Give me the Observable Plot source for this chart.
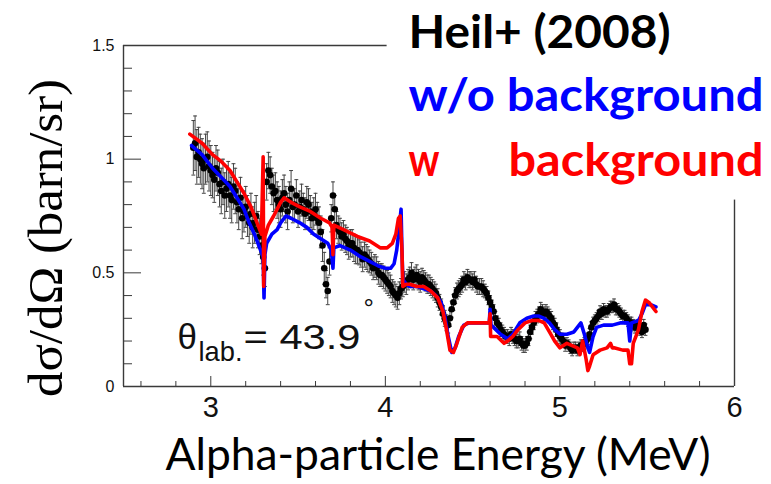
<!DOCTYPE html>
<html><head><meta charset="utf-8">
<script src="https://cdn.jsdelivr.net/npm/d3@7"></script>
<script src="https://cdn.jsdelivr.net/npm/@observablehq/plot@0.6"></script>
<style>html,body{margin:0;padding:0;background:#fff;overflow:hidden}svg{display:block}</style>
</head><body><div id="chart"></div>
<script>
// ---- Heil+ (2008) measured points ----
const energy = [
 2.90,2.92,2.94,2.96,2.98,3.00,3.02,3.04,3.06,3.08,
 3.10,3.12,3.14,3.16,3.18,3.20,3.22,3.24,3.26,3.28,
 3.30,3.31,3.32,3.34,3.36,3.38,3.40,3.42,3.44,3.46,
 3.48,3.50,3.52,3.54,3.56,3.58,3.60,3.62,3.64,3.65,
 3.66,3.67,3.68,3.69,3.70,3.72,3.74,3.76,3.78,3.80,
 3.82,3.84,3.86,3.88,3.90,3.92,3.94,3.96,3.98,4.00,
 4.02,4.04,4.06,4.08,4.10,4.12,4.14,4.16,4.18,4.20,
 4.22,4.24,4.26,4.28,4.30,4.32,4.34,4.36,4.38,4.40,
 4.42,4.44,4.46,4.48,4.50,4.52,4.54,4.56,4.58,4.60,
 4.62,4.64,4.66,4.68,4.70,4.72,4.74,4.76,4.78,4.80,
 4.82,4.84,4.86,4.88,4.90,4.92,4.94,4.96,4.98,5.00,
 5.02,5.04,5.06,5.08,5.10,5.12,5.14,5.16,5.18,5.20,
 5.22,5.24,5.26,5.28,5.30,5.32,5.34,5.36,5.38,5.40,
 5.42,5.44,5.46,5.48,
 2.91,2.93,2.95,2.97,2.99,3.01,3.03,3.05,3.07,3.09,
 3.11,3.13,3.15,3.17,3.19,3.21,3.23,3.25,3.27,3.29,
 3.33,3.35,3.37,3.39,3.41,3.43,3.45,3.47,3.49,3.51,
 3.53,3.55,3.57,3.59,3.61,3.63,3.71,3.73,3.75,3.77,
 3.79,3.81,3.83,3.85,3.87,3.89,3.91,3.93,3.95,3.97,
 3.99,4.01,4.03,4.05,4.07,4.09,4.11,4.13,4.15,4.17,
 4.19,4.21,4.23,4.25,4.27,4.29,4.31,4.33,4.35,4.37,
 4.39,4.41,4.43,4.45,4.47,4.49,4.51,4.53,4.55,4.57,
 4.59,4.61,4.63,4.65,4.67,4.69,4.71,4.73,4.75,4.77,
 4.79,4.81,4.83,4.85,4.87,4.89,4.91,4.93,4.95,4.97,
 4.99,5.01,5.03,5.05,5.07,5.09,5.11,5.13,5.15,5.17,
 5.19,5.21,5.23,5.25,5.27,5.29,5.31,5.33,5.35,5.37,
 5.39,5.41,5.43,5.45,5.47,5.49];
const crossSection = [
 1.05,1.01,1.00,0.96,1.01,0.95,0.91,0.94,0.86,0.84,
 0.89,0.82,0.86,0.78,0.74,0.79,0.72,0.70,0.75,0.66,
 0.57,0.52,0.90,0.93,0.85,0.82,0.78,0.85,0.77,0.87,
 0.80,0.77,0.82,0.76,0.80,0.74,0.78,0.72,0.62,0.52,
 0.45,0.42,0.55,0.74,0.84,0.71,0.68,0.67,0.64,0.63,
 0.61,0.60,0.58,0.58,0.56,0.54,0.53,0.50,0.49,0.47,
 0.45,0.42,0.40,0.41,0.44,0.45,0.48,0.47,0.49,0.46,
 0.47,0.45,0.44,0.42,0.39,0.35,0.30,0.27,0.34,0.40,
 0.43,0.45,0.46,0.47,0.46,0.45,0.44,0.43,0.41,0.37,
 0.33,0.28,0.25,0.23,0.22,0.23,0.21,0.20,0.19,0.18,
 0.21,0.26,0.30,0.32,0.33,0.33,0.31,0.28,0.25,0.22,
 0.20,0.19,0.17,0.17,0.16,0.18,0.19,0.21,0.26,0.29,
 0.31,0.32,0.33,0.34,0.35,0.34,0.33,0.31,0.30,0.28,
 0.27,0.26,0.25,0.27,
 1.07,1.03,0.98,1.00,0.97,0.93,0.96,0.89,0.90,0.87,
 0.84,0.88,0.81,0.83,0.77,0.75,0.76,0.72,0.69,0.62,
 0.95,0.88,0.86,0.80,0.83,0.80,0.82,0.79,0.84,0.79,
 0.78,0.81,0.77,0.76,0.74,0.68,0.78,0.69,0.66,0.65,
 0.62,0.63,0.60,0.59,0.56,0.57,0.55,0.52,0.52,0.49,
 0.48,0.46,0.44,0.41,0.39,0.43,0.46,0.47,0.50,0.48,
 0.47,0.48,0.46,0.45,0.43,0.41,0.37,0.32,0.28,0.30,
 0.37,0.42,0.44,0.47,0.48,0.47,0.47,0.44,0.44,0.42,
 0.39,0.35,0.30,0.27,0.24,0.22,0.21,0.22,0.20,0.21,
 0.18,0.19,0.24,0.28,0.31,0.34,0.32,0.32,0.30,0.27,
 0.23,0.21,0.18,0.18,0.16,0.17,0.17,0.18,0.20,0.23,
 0.28,0.30,0.33,0.34,0.33,0.35,0.36,0.34,0.32,0.31,
 0.29,0.28,0.26,0.27,0.24,0.25];
const crossSectionErr = [
 0.12,0.12,0.11,0.11,0.11,0.11,0.10,0.10,0.10,0.10,
 0.10,0.10,0.10,0.09,0.09,0.09,0.09,0.09,0.09,0.08,
 0.08,0.08,0.08,0.08,0.08,0.08,0.08,0.08,0.08,0.08,
 0.07,0.07,0.07,0.07,0.07,0.07,0.07,0.07,0.07,0.07,
 0.06,0.06,0.06,0.06,0.06,0.06,0.06,0.06,0.06,0.06,
 0.06,0.06,0.055,0.055,0.055,0.05,0.05,0.05,0.05,0.05,
 0.05,0.05,0.05,0.05,0.045,0.045,0.045,0.045,0.045,0.045,
 0.04,0.04,0.04,0.04,0.04,0.035,0.035,0.035,0.035,0.035,
 0.035,0.035,0.035,0.035,0.035,0.035,0.035,0.035,0.03,0.03,
 0.03,0.03,0.03,0.03,0.03,0.03,0.03,0.03,0.03,0.03,
 0.03,0.03,0.03,0.03,0.03,0.03,0.03,0.03,0.03,0.03,
 0.025,0.025,0.025,0.025,0.025,0.025,0.025,0.025,0.025,0.025,
 0.025,0.025,0.025,0.025,0.025,0.025,0.025,0.025,0.025,0.025,
 0.025,0.025,0.025,0.025,
 0.12,0.11,0.11,0.11,0.11,0.10,0.10,0.10,0.10,0.10,
 0.10,0.10,0.09,0.09,0.09,0.09,0.09,0.09,0.08,0.08,
 0.08,0.08,0.08,0.08,0.08,0.08,0.08,0.07,0.07,0.07,
 0.07,0.07,0.07,0.07,0.07,0.07,0.06,0.06,0.06,0.06,
 0.06,0.06,0.06,0.055,0.055,0.055,0.05,0.05,0.05,0.05,
 0.05,0.05,0.05,0.05,0.05,0.045,0.045,0.045,0.045,0.045,
 0.045,0.04,0.04,0.04,0.04,0.04,0.035,0.035,0.035,0.035,
 0.035,0.035,0.035,0.035,0.035,0.035,0.035,0.035,0.035,0.03,
 0.03,0.03,0.03,0.03,0.03,0.03,0.03,0.03,0.03,0.03,
 0.03,0.03,0.03,0.03,0.03,0.03,0.03,0.03,0.03,0.03,
 0.03,0.025,0.025,0.025,0.025,0.025,0.025,0.025,0.025,0.025,
 0.025,0.025,0.025,0.025,0.025,0.025,0.025,0.025,0.025,0.025,
 0.025,0.025,0.025,0.025,0.025,0.025];

// ---- R-matrix fit without background (blue) ----
const blueE = [2.89,2.95,3.01,3.06,3.11,3.15,3.19,3.22,3.25,3.28,3.30,3.305,3.31,3.32,3.35,3.38,3.40,3.43,3.46,3.51,
 3.55,3.59,3.63,3.67,3.69,3.70,3.705,3.74,3.80,3.86,3.91,3.96,4.00,4.03,4.05,4.065,4.08,4.09,4.095,4.10,
 4.12,4.14,4.18,4.22,4.26,4.29,4.32,4.34,4.36,4.38,4.40,4.42,4.45,4.48,4.52,4.56,4.595,4.60,4.605,4.62,
 4.66,4.70,4.73,4.77,4.81,4.85,4.88,4.91,4.94,4.97,5.00,5.04,5.08,5.11,5.12,5.14,5.16,5.17,5.19,5.21,
 5.25,5.30,5.35,5.39,5.40,5.41,5.45,5.47,5.49,5.52,5.55];
const blueY = [1.06,1.02,0.96,0.92,0.88,0.83,0.78,0.72,0.67,0.61,0.57,0.39,0.58,0.63,0.67,0.69,0.72,0.75,0.74,0.72,
 0.70,0.67,0.65,0.63,0.60,0.52,0.61,0.62,0.60,0.57,0.55,0.53,0.52,0.52,0.54,0.60,0.70,0.78,0.60,0.47,
 0.45,0.44,0.44,0.43,0.42,0.40,0.37,0.31,0.22,0.15,0.17,0.22,0.27,0.28,0.28,0.28,0.28,0.34,0.27,0.26,
 0.23,0.21,0.23,0.28,0.30,0.31,0.31,0.30,0.28,0.25,0.23,0.23,0.24,0.27,0.28,0.23,0.17,0.15,0.22,0.26,
 0.27,0.27,0.28,0.28,0.20,0.28,0.29,0.32,0.36,0.36,0.35];

// ---- R-matrix fit with background (red) ----
const redE = [2.88,2.95,3.01,3.06,3.11,3.15,3.19,3.23,3.26,3.29,3.30,3.303,3.31,3.33,3.36,3.40,3.42,3.46,3.51,3.57,
 3.63,3.68,3.695,3.70,3.705,3.76,3.84,3.91,3.97,4.01,4.04,4.06,4.075,4.085,4.095,4.10,4.12,4.14,4.18,4.22,
 4.26,4.30,4.33,4.35,4.37,4.39,4.41,4.44,4.47,4.52,4.56,4.595,4.60,4.603,4.64,4.68,4.70,4.73,4.76,4.80,
 4.84,4.88,4.91,4.94,4.97,5.00,5.04,5.07,5.10,5.115,5.13,5.15,5.16,5.17,5.19,5.23,5.27,5.29,5.30,5.31,
 5.36,5.39,5.40,5.41,5.42,5.45,5.47,5.49,5.51,5.53,5.55];
const redY = [1.11,1.07,1.02,0.99,0.95,0.90,0.85,0.79,0.73,0.67,1.01,0.44,0.66,0.71,0.75,0.81,0.83,0.81,0.79,0.77,
 0.74,0.72,0.70,0.58,0.71,0.69,0.66,0.64,0.61,0.61,0.63,0.67,0.74,0.75,0.60,0.44,0.45,0.45,0.44,0.44,
 0.42,0.39,0.33,0.25,0.16,0.15,0.19,0.26,0.28,0.28,0.28,0.28,0.32,0.22,0.22,0.19,0.20,0.22,0.25,0.28,
 0.29,0.29,0.28,0.24,0.20,0.17,0.19,0.18,0.17,0.14,0.20,0.12,0.07,0.09,0.14,0.16,0.17,0.19,0.17,0.17,
 0.16,0.16,0.10,0.10,0.19,0.25,0.33,0.38,0.37,0.35,0.33];

// ---- axes ----
const xMajor = [3, 4, 5, 6];
const xMinor = [2.6, 2.8, 3.2, 3.4, 3.6, 3.8, 4.2, 4.4, 4.6, 4.8, 5.2, 5.4, 5.6, 5.8];
const yMajor = [0, 0.5, 1, 1.5];
const yMinor = [0.1, 0.2, 0.3, 0.4, 0.6, 0.7, 0.8, 0.9, 1.1, 1.2, 1.3, 1.4];

const points = energy.map((e, i) => ({E: e, y: crossSection[i], lo: crossSection[i] - crossSectionErr[i], hi: crossSection[i] + crossSectionErr[i]}));
const blue = blueE.map((e, i) => ({E: e, y: blueY[i]}));
const red = redE.map((e, i) => ({E: e, y: redY[i]}));

const W = 771, H = 484, mL = 123, mR = 37, mT = 45, mB = 98;
const fw = W - mL - mR, fh = H - mT - mB;
const capSymbol = {draw(ctx, size) { const w = Math.sqrt(size); ctx.moveTo(-w / 2, 0); ctx.lineTo(w / 2, 0); }};
const axisCol = "#3a3a3a";
const sans = "Liberation Sans, Arial, Helvetica, sans-serif";
const calib = "Lato, 'Open Sans', sans-serif";
const t = d => d;

const chart = Plot.plot({
  width: W, height: H,
  marginLeft: mL, marginRight: mR, marginTop: mT, marginBottom: mB,
  style: {fontFamily: sans, background: "#fff", overflow: "visible"},
  x: {domain: [2.5, 6]},
  y: {domain: [0, 1.5]},
  marks: [
    // frame
    Plot.ruleY([0], {stroke: axisCol, strokeWidth: 1.4}),
    Plot.ruleX([2.5], {stroke: axisCol, strokeWidth: 1.4}),
    Plot.ruleY([1.5], {x1: 2.5, x2: 4.01, stroke: axisCol, strokeWidth: 1.4}),
    Plot.ruleX([6], {y1: 0, y2: 0.82, stroke: axisCol, strokeWidth: 1.4}),
    // inward ticks
    Plot.ruleX(xMajor, {x: t, insetTop: fh - 10, stroke: axisCol, strokeWidth: 1}),
    Plot.ruleX(xMinor, {x: t, insetTop: fh - 5, stroke: axisCol, strokeWidth: 1}),
    Plot.ruleY(yMajor, {y: t, insetRight: fw - 18, stroke: axisCol, strokeWidth: 1}),
    Plot.ruleY(yMinor, {y: t, insetRight: fw - 9, stroke: axisCol, strokeWidth: 1}),
    Plot.axisX({ticks: xMajor, tickSize: 0, tickPadding: 10, fontSize: 29, tickFormat: d => String(d), label: null, fill: "#111"}),
    Plot.axisY({ticks: yMajor, tickSize: 0, tickPadding: 9, fontSize: 16, tickFormat: d => String(d), label: null, fill: "#111"}),
    // data with error bars
    Plot.ruleX(points, {x: "E", y1: "lo", y2: "hi", stroke: "#444", strokeWidth: 1}),
    Plot.dot(points, {x: "E", y: "lo", symbol: capSymbol, r: 2.2, fill: "none", stroke: "#444", strokeWidth: 1}),
    Plot.dot(points, {x: "E", y: "hi", symbol: capSymbol, r: 2.2, fill: "none", stroke: "#444", strokeWidth: 1}),
    Plot.dot(points, {x: "E", y: "y", r: 3.3, fill: "#000", stroke: null}),
    // fits
    Plot.line(blue, {x: "E", y: "y", stroke: "#0000ff", strokeWidth: 3.6, strokeLinejoin: "round"}),
    Plot.line(red, {x: "E", y: "y", stroke: "#ff0000", strokeWidth: 3.6, strokeLinejoin: "round"}),
    // annotation
    Plot.text(["θ"], {text: t, frameAnchor: "top-left", dx: 54, dy: 303, lineAnchor: "bottom", textAnchor: "start", fontSize: 35, fill: "#111"}),
    Plot.text(["lab."], {text: t, frameAnchor: "top-left", dx: 75, dy: 315, lineAnchor: "bottom", textAnchor: "start", fontSize: 28, fill: "#111"}),
    Plot.text(["= 43.9"], {text: t, frameAnchor: "top-left", dx: 120, dy: 303, lineAnchor: "bottom", textAnchor: "start", fontSize: 35, fill: "#111"}),
    Plot.text(["°"], {text: t, frameAnchor: "top-left", dx: 240, dy: 271, lineAnchor: "bottom", textAnchor: "start", fontSize: 26, fill: "#111"}),
    // legend
    Plot.text(["Heil+ (2008)"], {text: t, frameAnchor: "top-left", dx: 285, dy: 2, lineAnchor: "bottom", textAnchor: "start", fontSize: 46, fontWeight: "bold", fontFamily: calib, fill: "#000"}),
    Plot.text(["w/o background"], {text: t, frameAnchor: "top-left", dx: 285, dy: 65, lineAnchor: "bottom", textAnchor: "start", fontSize: 46, fontWeight: "bold", fontFamily: calib, fill: "#0000ff"}),
    Plot.text(["w"], {text: t, frameAnchor: "top-left", dx: 285, dy: 130, lineAnchor: "bottom", textAnchor: "start", fontSize: 46, fontWeight: "bold", fontFamily: calib, fill: "#ff0000"}),
    Plot.text(["background"], {text: t, frameAnchor: "top-left", dx: 385, dy: 130, lineAnchor: "bottom", textAnchor: "start", fontSize: 46, fontWeight: "bold", fontFamily: calib, fill: "#ff0000"}),
    // axis titles
    Plot.text(["Alpha-particle Energy (MeV)"], {text: t, frameAnchor: "bottom", dx: 9, dy: 83, lineAnchor: "bottom", textAnchor: "middle", fontSize: 44, fontFamily: calib, fill: "#000"}),
    Plot.text(["dσ/dΩ (barn/sr)"], {text: t, frameAnchor: "left", dx: -77, dy: 22, rotate: -90, lineAnchor: "middle", textAnchor: "middle", fontSize: 48, fontFamily: "Liberation Serif, 'Times New Roman', serif", fill: "#000"})
  ]
});

const fits = new Map([
  ["Alpha-particle Energy (MeV)", 545], ["Heil+ (2008)", 262], ["w/o background", 355],
  ["background", 255], ["w", 31], ["= 43.9", 117], ["dσ/dΩ (barn/sr)", 318], ["lab.", 44]
]);
d3.select(chart).selectAll("text").each(function () {
  const s = this.textContent;
  if (fits.has(s)) { this.setAttribute("textLength", fits.get(s)); this.setAttribute("lengthAdjust", "spacingAndGlyphs"); }
});
document.getElementById("chart").appendChild(chart);
</script>
</body></html>
